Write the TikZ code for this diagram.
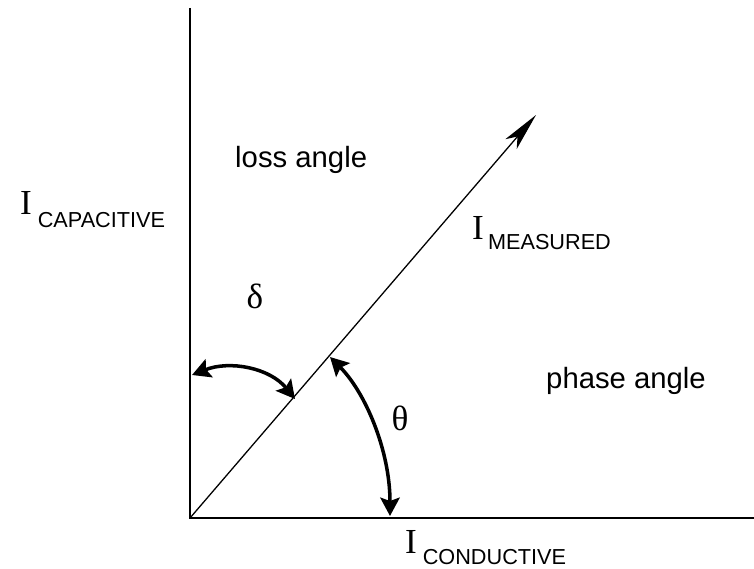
\documentclass[tikz,border=0pt]{standalone}
\usepackage{fontspec}
\setmainfont{Liberation Serif}
\setsansfont{Liberation Sans}
\usetikzlibrary{arrows.meta}

\newcommand{\subtxt}[1]{{\sffamily\fontsize{18.5}{22}\selectfont #1}}

\begin{document}
\begin{tikzpicture}[
    x=0.03cm, y=-0.03cm,
    axis/.style={
        line width=2pt
    },
    vector/.style={
        -{Stealth[length=1.15cm,width=0.45cm,inset=0.3cm]},
        line width=1.1pt
    },
    anglearrow/.style={
        {Stealth[length=0.55cm,width=0.58cm,inset=0.1cm]}-{Stealth[length=0.55cm,width=0.58cm,inset=0.1cm]},
        line width=3pt
    },
    label/.style={
        font=\sffamily\fontsize{25}{30}\selectfont,
        inner sep=0pt,
        anchor=base west
    },
    current/.style={
        font=\rmfamily\fontsize{30}{36}\selectfont,
        inner sep=0pt,
        anchor=base west
    },
    greek/.style={
        font=\rmfamily\fontsize{30}{34}\selectfont,
        inner sep=0pt
    }
]
\useasboundingbox (0,0) rectangle (754,569);

% Axes and measured current
\coordinate (O) at (190,518);
\coordinate (ytop) at (190,8);
\coordinate (xend) at (754,518);
\coordinate (tip) at (536,115);
\draw[axis] (ytop) -- (O) -- (xend);
\draw[vector] (O) -- (tip);

% Loss angle arc
\coordinate (lossA) at (192,375);
\coordinate (lossB) at (295,399);
\draw[anglearrow] (lossA) .. controls (230,360) and (270,368) .. (lossB);

% Phase angle arc
\coordinate (phaseA) at (330,357);
\coordinate (phaseB) at (390,516);
\draw[anglearrow] (phaseA) .. controls (365,392) and (390,450) .. (phaseB);

% Labels
\node[current] (icap) at (20,215) {I\hspace{5pt}\raisebox{-11pt}{\subtxt{CAPACITIVE}}};
\node[current] (imeas) at (472,240) {I\hspace{3.5pt}\raisebox{-8.5pt}{\subtxt{MEASURED}}};
\node[current] (icond) at (405,553) {I\hspace{5pt}\raisebox{-10pt}{\subtxt{CONDUCTIVE}}};
\node[label] (loss) at (235,168) {loss angle};
\node[label] (phase) at (546,388) {phase angle};
\node[greek] (delta) at (255,296) {δ};
\node[greek] (theta) at (400,418) {θ};

\end{tikzpicture}
\end{document}
